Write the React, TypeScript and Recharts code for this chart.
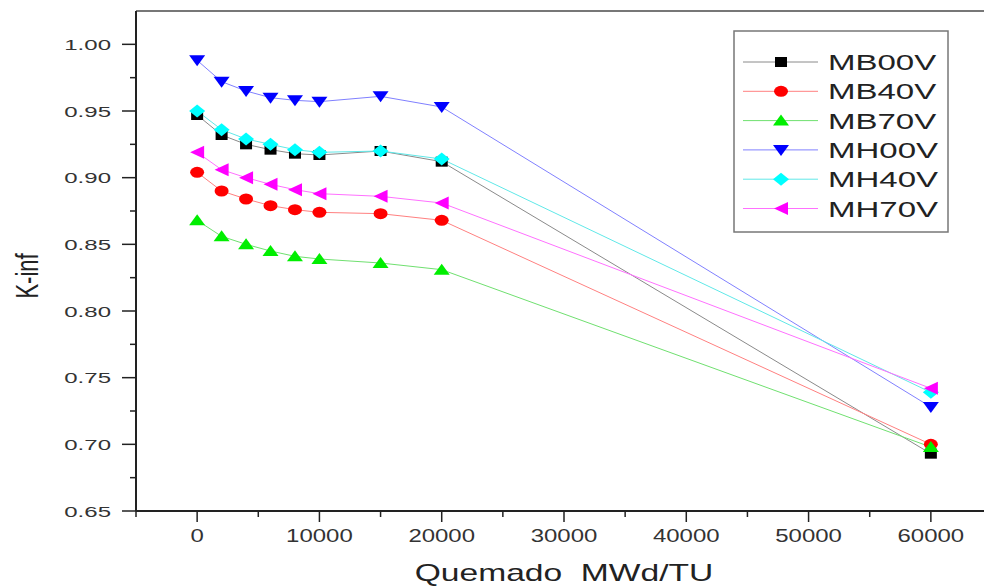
import { LineChart, Line, XAxis, YAxis, ReferenceLine, Legend } from "recharts";

const burnup = [0, 2000, 4000, 6000, 8000, 10000, 15000, 20000, 60000];
const mb00v = [0.947, 0.932, 0.925, 0.921, 0.918, 0.917, 0.92, 0.912, 0.693];
const mb40v = [0.904, 0.89, 0.884, 0.879, 0.876, 0.874, 0.873, 0.868, 0.7];
const mb70v = [0.868, 0.856, 0.85, 0.845, 0.841, 0.839, 0.836, 0.831, 0.698];
const mh00v = [0.988, 0.972, 0.965, 0.96, 0.958, 0.957, 0.961, 0.953, 0.728];
const mh40v = [0.95, 0.936, 0.929, 0.925, 0.921, 0.919, 0.92, 0.914, 0.739];
const mh70v = [0.919, 0.906, 0.9, 0.895, 0.891, 0.888, 0.886, 0.881, 0.742];

const xMajorTicks = [0, 10000, 20000, 30000, 40000, 50000, 60000];
const xMinorTicks = [-5000, 5000, 15000, 25000, 35000, 45000, 55000];
const yMajorTicks = [0.65, 0.7, 0.75, 0.8, 0.85, 0.9, 0.95, 1.0];
const yMinorTicks = [0.675, 0.725, 0.775, 0.825, 0.875, 0.925, 0.975];

const series = [
  { name: "MB00V", values: mb00v, color: "#000000", line: "#8a8a8a", shape: "square" },
  { name: "MB40V", values: mb40v, color: "#ff0000", line: "#ff8080", shape: "circle" },
  { name: "MB70V", values: mb70v, color: "#00ee00", line: "#70e070", shape: "up" },
  { name: "MH00V", values: mh00v, color: "#0000ff", line: "#8080ff", shape: "down" },
  { name: "MH40V", values: mh40v, color: "#00ffff", line: "#60e8e8", shape: "diamond" },
  { name: "MH70V", values: mh70v, color: "#ff00ff", line: "#ff70ff", shape: "left" },
];

const data = burnup.map((x, i) => {
  const row: Record<string, number> = { x };
  series.forEach((s) => (row[s.name] = s.values[i]));
  return row;
});

const FONT = "'Liberation Sans', Arial, sans-serif";
const AXIS = "#222";

const Marker = ({ cx, cy, shape, color }: any) => {
  if (cx == null || cy == null) return null;
  switch (shape) {
    case "square":
      return <rect x={cx - 6} y={cy - 5} width={12} height={10} fill={color} />;
    case "circle":
      return <ellipse cx={cx} cy={cy} rx={7} ry={5.5} fill={color} />;
    case "up":
      return <polygon points={`${cx},${cy - 6} ${cx + 8},${cy + 5} ${cx - 8},${cy + 5}`} fill={color} />;
    case "down":
      return <polygon points={`${cx - 8},${cy - 5} ${cx + 8},${cy - 5} ${cx},${cy + 6}`} fill={color} />;
    case "diamond":
      return <polygon points={`${cx},${cy - 6.5} ${cx + 8},${cy} ${cx},${cy + 6.5} ${cx - 8},${cy}`} fill={color} />;
    default:
      return <polygon points={`${cx - 7},${cy} ${cx + 7},${cy - 6.5} ${cx + 7},${cy + 6.5}`} fill={color} />;
  }
};

const XTick = ({ x, y, payload }: any) => {
  const v = payload.value;
  const major = xMajorTicks.includes(v);
  return (
    <g>
      <line x1={x} x2={x} y1={y} y2={y + (major ? 11 : 6)} stroke={AXIS} strokeWidth={1.5} />
      {major && (
        <text
          transform={`translate(${x},${y + 31}) scale(1.37,1)`}
          textAnchor="middle"
          fontSize={17.5}
          fontFamily={FONT}
          fill="#333"
        >
          {v}
        </text>
      )}
    </g>
  );
};

const YTick = ({ x, y, payload }: any) => {
  const v = payload.value;
  const major = Math.abs(v * 20 - Math.round(v * 20)) < 1e-6;
  return (
    <g>
      <line x1={x} x2={x - (major ? 14 : 6)} y1={y} y2={y} stroke={AXIS} strokeWidth={1.5} />
      {major && (
        <text
          transform={`translate(111,${y + 5.5}) scale(1.55,1)`}
          textAnchor="end"
          fontSize={15.5}
          fontFamily={FONT}
          fill="#333"
        >
          {v.toFixed(2)}
        </text>
      )}
    </g>
  );
};

const LegendBox = () => (
  <svg width={216} height={203} style={{ display: "block" }}>
    <rect x={1} y={1} width={214} height={201} fill="#fff" stroke="#777" strokeWidth={1.5} />
    {series.map((s, i) => {
      const cy = 32 + i * 29.3;
      return (
        <g key={s.name}>
          <line x1={10} x2={85} y1={cy} y2={cy} stroke={s.line} strokeWidth={1} />
          <Marker cx={48} cy={cy} shape={s.shape} color={s.color} />
          <text
            transform={`translate(95,${cy + 8}) scale(1.5,1)`}
            fontSize={22}
            fontFamily={FONT}
            fill="#222"
          >
            {s.name}
          </text>
        </g>
      );
    })}
  </svg>
);

export default function App() {
  const xTicks = [...xMinorTicks, ...xMajorTicks].sort((a, b) => a - b);
  const yTicks = [...yMinorTicks, ...yMajorTicks].sort((a, b) => a - b);
  return (
    <div
      style={{
        position: "fixed",
        left: 0,
        top: 0,
        width: 984,
        height: 587,
        overflow: "hidden",
        background: "#fff",
      }}
    >
      <LineChart width={1000} height={587} data={data} margin={{ top: 11, right: 8, left: 56, bottom: 0 }}>
        <XAxis
          dataKey="x"
          type="number"
          domain={[-5000, 65000]}
          allowDataOverflow
          ticks={xTicks}
          interval={0}
          tickSize={0}
          tickMargin={0}
          tick={<XTick />}
          height={76}
          axisLine={{ stroke: AXIS, strokeWidth: 2 }}
        />
        <YAxis
          type="number"
          domain={[0.65, 1.025]}
          allowDataOverflow
          ticks={yTicks}
          interval={0}
          tickSize={0}
          tickMargin={0}
          tick={<YTick />}
          width={80}
          axisLine={{ stroke: AXIS, strokeWidth: 2 }}
        />
        <ReferenceLine y={1.025} stroke="#777" strokeWidth={2} />
        <Legend
          layout="vertical"
          align="center"
          verticalAlign="middle"
          wrapperStyle={{ left: 733, top: 30, width: 216, height: 203 }}
          content={() => <LegendBox />}
        />
        {series.map((s) => (
          <Line
            key={s.name}
            dataKey={s.name}
            stroke={s.line}
            strokeWidth={1}
            isAnimationActive={false}
            dot={(p: any) => <Marker key={`${s.name}-${p.index}`} cx={p.cx} cy={p.cy} shape={s.shape} color={s.color} />}
            activeDot={false}
          />
        ))}
        <text
          transform="translate(564,581) scale(1.4,1)"
          textAnchor="middle"
          fontSize={24}
          fontFamily={FONT}
          fill="#222"
        >
          {"Quemado\u00a0\u00a0MWd/TU"}
        </text>
        <text
          transform="translate(38,276) scale(1.4,1) rotate(-90)"
          textAnchor="middle"
          fontSize={22}
          fontFamily={FONT}
          fill="#222"
        >
          K-inf
        </text>
      </LineChart>
    </div>
  );
}
